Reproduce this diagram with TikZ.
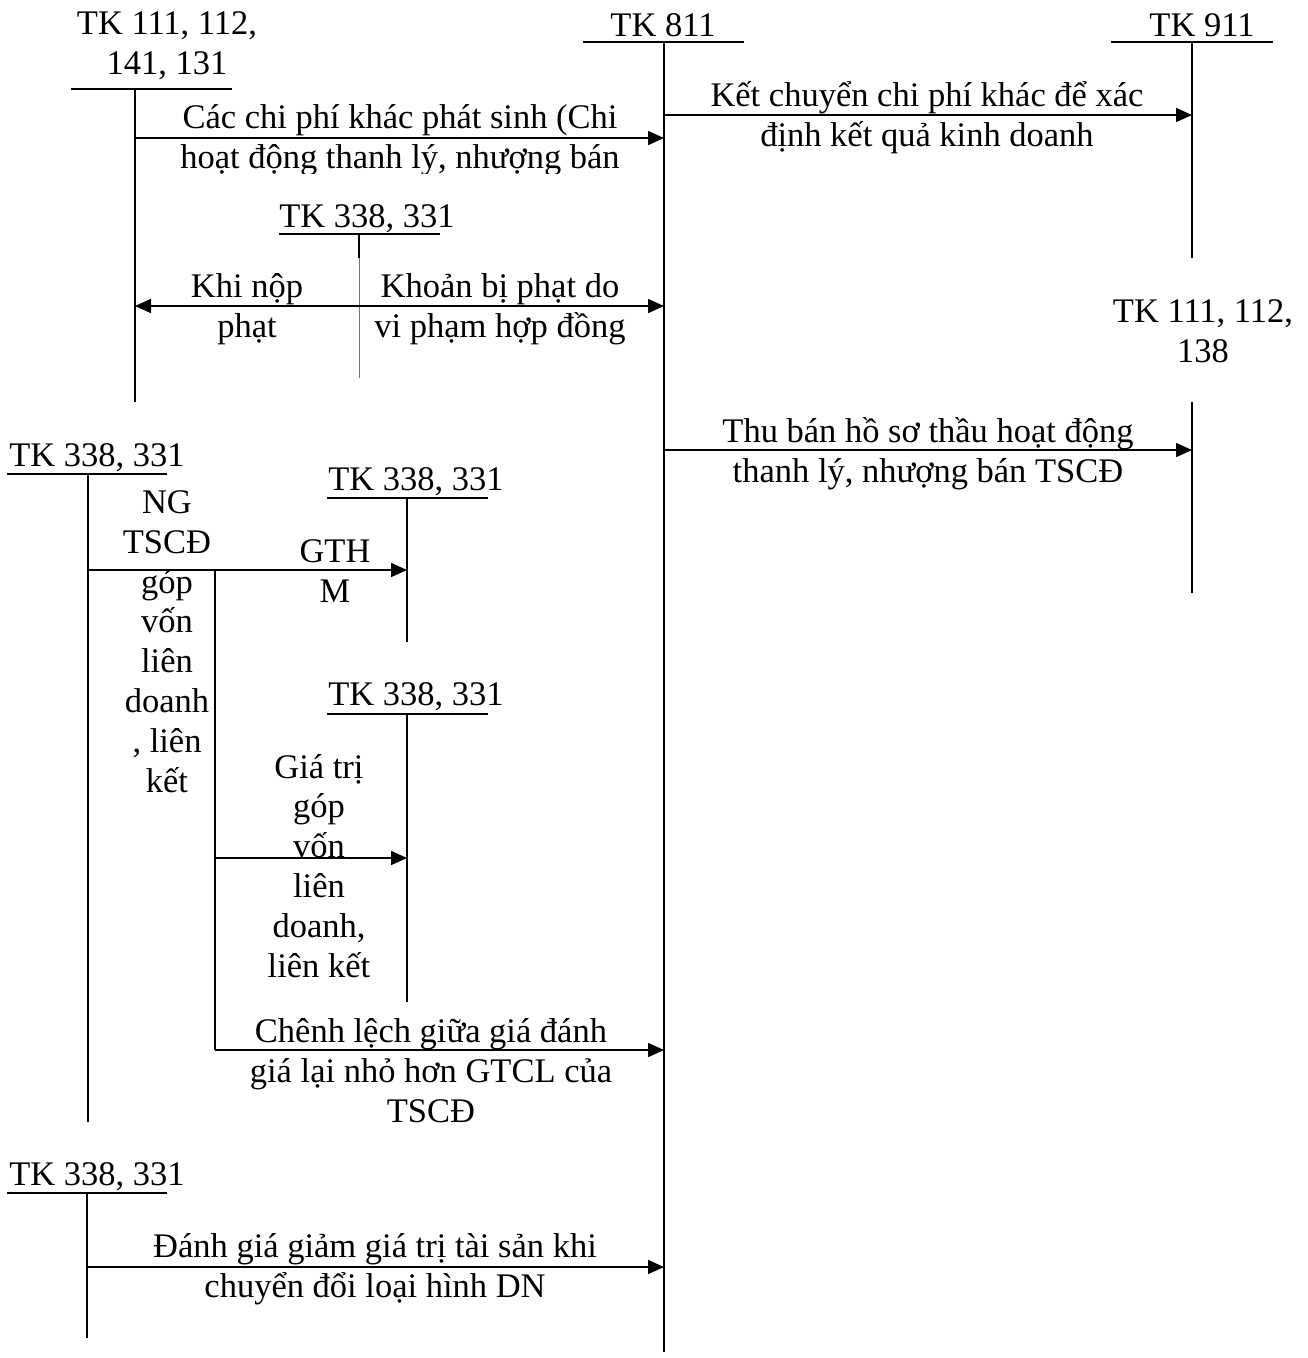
\documentclass[tikz,border=0pt]{standalone}
\usepackage{fontspec}
\setmainfont{Liberation Serif}
\usetikzlibrary{arrows.meta}
\begin{document}
\begin{tikzpicture}[x=1pt,y=-1pt,
  txt/.style={inner sep=0pt,anchor=base,align=center,font=\fontsize{34.5}{39.8}\selectfont},
  acct/.style={line width=1.6pt},
  thin/.style={line width=0.7pt,black!55},
  arr/.style={line width=1.6pt,-{Triangle[length=16pt,width=14pt]}},
  darr/.style={line width=1.6pt,{Triangle[length=16pt,width=14pt]}-{Triangle[length=16pt,width=14pt]}}]
\useasboundingbox (0,0) rectangle (1308,1358);

% ---------- account labels (anchor = baseline of last line) ----------
\node[txt] (t111) at (167,74) {TK 111, 112,\\141, 131};
\node[txt] (t811) at (663,36) {TK 811};
\node[txt] (t911) at (1202,36) {TK 911};
\node[txt] (t338a) at (367,227) {TK 338, 331};
\node[txt] (t111b) at (1203,362) {TK 111, 112,\\138};
\node[txt] (t338b) at (97,466) {TK 338, 331};
\node[txt] (t338c) at (416,490) {TK 338, 331};
\node[txt] (t338d) at (416,705) {TK 338, 331};
\node[txt] (t338e) at (97,1185) {TK 338, 331};

% ---------- coordinates of T-accounts ----------
\coordinate (u111l) at (71,89);   \coordinate (u111r) at (232,89);
\coordinate (v111t) at (135,89);  \coordinate (v111b) at (135,402);
\coordinate (u811l) at (583,42);  \coordinate (u811r) at (744,42);
\coordinate (v811t) at (664,42);  \coordinate (v811b) at (664,1352);
\coordinate (u911l) at (1111,42); \coordinate (u911r) at (1273,42);
\coordinate (v911t) at (1192,42); \coordinate (v911b) at (1192,258);
\coordinate (uaL) at (279,234);   \coordinate (uaR) at (440,234);
\coordinate (vat) at (359,234);   \coordinate (vam) at (359,258); \coordinate (vab) at (359,378);
\coordinate (v111bt) at (1192,402); \coordinate (v111bb) at (1192,593);
\coordinate (ubL) at (7,474);     \coordinate (ubR) at (167,474);
\coordinate (vbt) at (88,474);    \coordinate (vbb) at (88,1122);
\coordinate (ucL) at (327,498);   \coordinate (ucR) at (488,498);
\coordinate (vct) at (407,498);   \coordinate (vcb) at (407,642);
\coordinate (udL) at (327,714);   \coordinate (udR) at (488,714);
\coordinate (vdt) at (407,714);   \coordinate (vdb) at (407,1002);
\coordinate (brt) at (215,570);   \coordinate (brb) at (215,1050);
\coordinate (ueL) at (7,1193);    \coordinate (ueR) at (167,1193);
\coordinate (vet) at (87,1193);   \coordinate (veb) at (87,1338);

\draw[acct] (u111l) -- (u111r) (v111t) -- (v111b);
\draw[acct] (u811l) -- (u811r) (v811t) -- (v811b);
\draw[acct] (u911l) -- (u911r) (v911t) -- (v911b);
\draw[acct] (uaL) -- (uaR) (vat) -- (vam);
\draw[thin] (vam) -- (vab);
\draw[acct] (v111bt) -- (v111bb);
\draw[acct] (ubL) -- (ubR) (vbt) -- (vbb);
\draw[acct] (ucL) -- (ucR) (vct) -- (vcb);
\draw[acct] (udL) -- (udR) (vdt) -- (vdb);
\draw[acct] (brt) -- (brb);
\draw[acct] (ueL) -- (ueR) (vet) -- (veb);

% ---------- arrows ----------
\coordinate (a1s) at (135,138);  \coordinate (a1e) at (664,138);
\coordinate (a2s) at (664,115);  \coordinate (a2e) at (1192,115);
\coordinate (a3s) at (135,306);  \coordinate (a3e) at (664,306);
\coordinate (a4s) at (664,450);  \coordinate (a4e) at (1192,450);
\coordinate (a5s) at (88,570);   \coordinate (a5e) at (407,570);
\coordinate (a6s) at (215,858);  \coordinate (a6e) at (407,858);
\coordinate (a7s) at (215,1050); \coordinate (a7e) at (664,1050);
\coordinate (a8s) at (87,1267);  \coordinate (a8e) at (664,1267);
\draw[arr] (a1s) -- (a1e);
\draw[arr] (a2s) -- (a2e);
\draw[darr] (a3s) -- (a3e);
\draw[arr] (a4s) -- (a4e);
\draw[arr] (a5s) -- (a5e);
\draw[arr] (a6s) -- (a6e);
\draw[arr] (a7s) -- (a7e);
\draw[arr] (a8s) -- (a8e);

% ---------- arrow labels ----------
\begin{scope}
\clip (140,90) rectangle (655,173);
\node[txt] (l1) at (400,168) {Các chi phí khác phát sinh (Chi\\hoạt động thanh lý, nhượng bán};
\end{scope}
\node[txt] (l2) at (927,146) {Kết chuyển chi phí khác để xác\\định kết quả kinh doanh};
\node[txt] (l3a) at (247,337) {Khi nộp\\phạt};
\node[txt] (l3b) at (500,337) {Khoản bị phạt do\\vi phạm hợp đồng};
\node[txt] (l4) at (928,482) {Thu bán hồ sơ thầu hoạt động\\thanh lý, nhượng bán TSCĐ};
\node[txt] (l5) at (167,792) {NG\\TSCĐ\\góp\\vốn\\liên\\doanh\\, liên\\kết};
\node[txt] (l6) at (335,602) {GTH\\M};
\node[txt] (l7) at (319,977) {Giá trị\\góp\\vốn\\liên\\doanh,\\liên kết};
\node[txt] (l8) at (431,1122) {Chênh lệch giữa giá đánh\\giá lại nhỏ hơn GTCL của\\TSCĐ};
\node[txt] (l9) at (375,1297) {Đánh giá giảm giá trị tài sản khi\\chuyển đổi loại hình DN};
\end{tikzpicture}
\end{document}
